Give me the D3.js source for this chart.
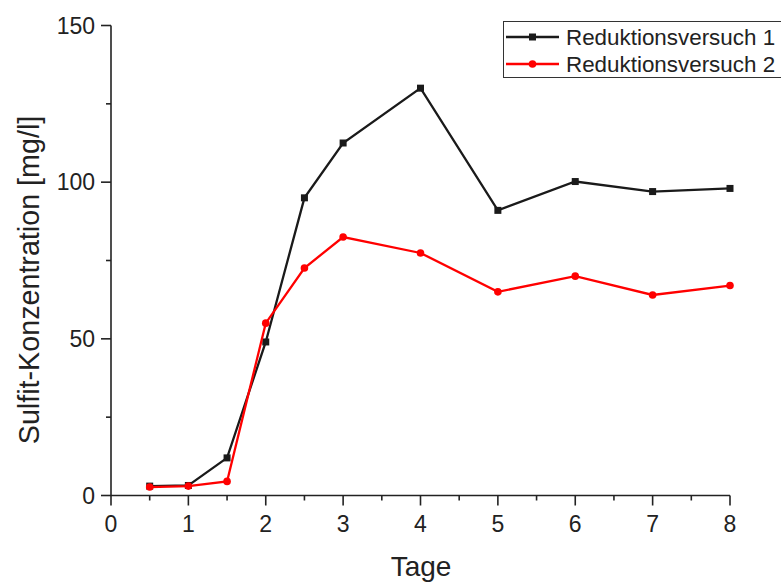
<!DOCTYPE html>
<html><head><meta charset="utf-8">
<script src="https://cdn.jsdelivr.net/npm/d3@7"></script>
<style>body{margin:0;background:#fff}svg{display:block}text{font-family:"Liberation Sans",Arial,sans-serif;fill:#222}</style>
</head><body>
<script>
const days = [0.5, 1, 1.5, 2, 2.5, 3, 4, 5, 6, 7, 8];
const versuch1 = [3.0, 3.2, 12, 49, 95, 112.5, 130, 91, 100.2, 97, 98];
const versuch2 = [2.7, 3.0, 4.5, 55, 72.6, 82.5, 77.4, 65, 70, 64, 67];
const seriesNames = ["Reduktionsversuch 1", "Reduktionsversuch 2"];
const xTicks = [0, 1, 2, 3, 4, 5, 6, 7, 8];
const yTicks = [0, 50, 100, 150];
const xLabel = "Tage";
const yLabel = "Sulfit-Konzentration [mg/l]";

const W = 781, H = 584;
const svg = d3.select("body").append("svg").attr("width", W).attr("height", H);
const x = d3.scaleLinear().domain([0, 8]).range([111, 730]);
const y = d3.scaleLinear().domain([0, 150]).range([495.5, 25.5]);
const fs = 23;
const legFs = 22.4;

const axisColor = "#222";
svg.append("line").attr("x1", x(0)).attr("x2", x(8)).attr("y1", y(0)).attr("y2", y(0)).attr("stroke", axisColor).attr("stroke-width", 1.6);
svg.append("line").attr("x1", x(0)).attr("x2", x(0)).attr("y1", y(0)).attr("y2", y(150)).attr("stroke", axisColor).attr("stroke-width", 1.6);
d3.range(0, 8.01, 0.5).forEach(v => {
  const major = Math.abs(v - Math.round(v)) < 1e-9;
  svg.append("line").attr("x1", x(v)).attr("x2", x(v)).attr("y1", y(0)).attr("y2", y(0) + (major ? 10 : 5)).attr("stroke", axisColor).attr("stroke-width", 1.6);
});
xTicks.forEach(v => {
  svg.append("text").attr("x", x(v)).attr("y", 532).attr("text-anchor", "middle").attr("font-size", fs).text(v);
});
d3.range(0, 150.01, 25).forEach(v => {
  const major = v % 50 === 0;
  svg.append("line").attr("x1", x(0)).attr("x2", x(0) - (major ? 10 : 5)).attr("y1", y(v)).attr("y2", y(v)).attr("stroke", axisColor).attr("stroke-width", 1.6);
});
yTicks.forEach(v => {
  svg.append("text").attr("x", 95).attr("y", y(v) + 8).attr("text-anchor", "end").attr("font-size", fs).text(v);
});
svg.append("text").attr("x", 421).attr("y", 576).attr("text-anchor", "middle").attr("font-size", 28).text(xLabel);
svg.append("text").attr("transform", `translate(38.5,280) rotate(-90)`).attr("text-anchor", "middle").attr("font-size", 28.7).text(yLabel);

const line = d3.line().x(d => x(d[0])).y(d => y(d[1]));
const s1 = days.map((d, i) => [d, versuch1[i]]);
const s2 = days.map((d, i) => [d, versuch2[i]]);
svg.append("path").attr("d", line(s1)).attr("fill", "none").attr("stroke", "#1a1a1a").attr("stroke-width", 2.3);
s1.forEach(d => svg.append("rect").attr("x", x(d[0]) - 3.5).attr("y", y(d[1]) - 3.5).attr("width", 7).attr("height", 7).attr("fill", "#1a1a1a"));
svg.append("path").attr("d", line(s2)).attr("fill", "none").attr("stroke", "#ff0000").attr("stroke-width", 2.3);
s2.forEach(d => svg.append("circle").attr("cx", x(d[0])).attr("cy", y(d[1])).attr("r", 3.8).attr("fill", "#ff0000"));

svg.append("rect").attr("x", 503.5).attr("y", 21.5).attr("width", 290).attr("height", 56).attr("fill", "none").attr("stroke", "#333").attr("stroke-width", 1);
const legY = [37, 64];
svg.append("line").attr("x1", 506).attr("x2", 559).attr("y1", legY[0]).attr("y2", legY[0]).attr("stroke", "#1a1a1a").attr("stroke-width", 2.3);
svg.append("rect").attr("x", 532.5 - 3.5).attr("y", legY[0] - 3.5).attr("width", 7).attr("height", 7).attr("fill", "#1a1a1a");
svg.append("line").attr("x1", 506).attr("x2", 559).attr("y1", legY[1]).attr("y2", legY[1]).attr("stroke", "#ff0000").attr("stroke-width", 2.3);
svg.append("circle").attr("cx", 532.5).attr("cy", legY[1]).attr("r", 3.8).attr("fill", "#ff0000");
seriesNames.forEach((n, i) => {
  svg.append("text").attr("x", 566).attr("y", legY[i] + 8).attr("font-size", legFs).text(n);
});
</script>
</body></html>
